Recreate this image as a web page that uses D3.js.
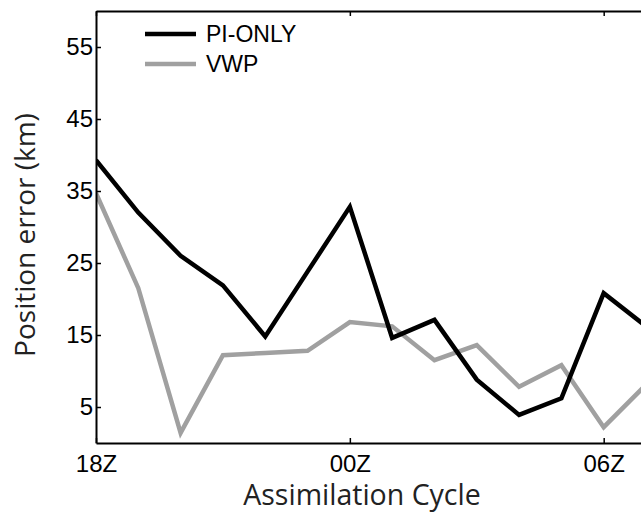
<!DOCTYPE html>
<html>
<head>
<meta charset="utf-8">
<script src="https://cdn.jsdelivr.net/npm/d3@7"></script>
<style>
  html, body { margin: 0; padding: 0; background: #fff; }
  svg { display: block; }
</style>
</head>
<body>
<svg id="chart" width="641" height="512"></svg>
<script>
// Assimilation cycles, hourly from 18Z to 07Z
const cycles = ["18Z","19Z","20Z","21Z","22Z","23Z","00Z","01Z","02Z","03Z","04Z","05Z","06Z","07Z"];
// Track position error (km) for each experiment
const piOnly = [39.3, 32.0, 26.0, 21.9, 14.8, 23.8, 32.8, 14.6, 17.1, 8.8, 3.9, 6.2, 20.8, 16.2];
const vwp    = [34.7, 21.5, 1.4, 12.2, 12.5, 12.8, 16.8, 16.2, 11.5, 13.6, 7.8, 10.8, 2.2, 8.1];
const seriesNames = ["PI-ONLY", "VWP"];
const xTickLabels = ["18Z", "00Z", "06Z"];
const yTicks = [5, 15, 25, 35, 45, 55];

const svg = d3.select("#chart");
const mLeft = 96, mRight = 646, mTop = 11, mBottom = 443;

const x = d3.scaleLinear().domain([0, cycles.length - 1]).range([mLeft, mRight]);
const y = d3.scaleLinear().domain([0, 60]).range([mBottom, mTop]);

const xTickIdx = xTickLabels.map(l => cycles.indexOf(l));
const tickFont = "'Liberation Sans', Arial, Helvetica, sans-serif";
const titleFont = "'Open Sans', 'Noto Sans', sans-serif";

svg.append("defs").append("clipPath").attr("id", "plot")
  .append("rect").attr("x", mLeft).attr("y", mTop)
  .attr("width", mRight - mLeft).attr("height", mBottom - mTop);

// Data lines
const line = d3.line().x((d, i) => x(i)).y(d => y(d));
const g = svg.append("g").attr("clip-path", "url(#plot)");
g.append("path").datum(vwp).attr("d", line)
  .attr("fill", "none").attr("stroke", "#a0a0a0").attr("stroke-width", 4.5)
  .attr("stroke-linejoin", "miter");
g.append("path").datum(piOnly).attr("d", line)
  .attr("fill", "none").attr("stroke", "#000").attr("stroke-width", 4.5)
  .attr("stroke-linejoin", "miter");

// Axes with inward ticks on all four sides
function styleAxis(sel) {
  sel.selectAll(".domain").attr("stroke", "#000").attr("stroke-width", 2);
  sel.selectAll(".tick line").attr("stroke", "#000").attr("stroke-width", 1.5);
}

const yAxis = d3.axisLeft(y).tickValues(yTicks).tickSizeInner(-5).tickSizeOuter(0).tickPadding(3);
svg.append("g").attr("transform", `translate(${mLeft},0)`).call(yAxis).call(styleAxis)
  .selectAll("text").attr("font-family", tickFont).attr("font-size", 24).attr("fill", "#000");

const yAxisR = d3.axisRight(y).tickValues(yTicks).tickSizeInner(-5).tickSizeOuter(0).tickFormat("");
svg.append("g").attr("transform", `translate(${mRight},0)`).call(yAxisR).call(styleAxis);

const xAxis = d3.axisBottom(x).tickValues(xTickIdx).tickFormat(i => cycles[i])
  .tickSizeInner(-5).tickSizeOuter(0).tickPadding(12);
svg.append("g").attr("transform", `translate(0,${mBottom})`).call(xAxis).call(styleAxis)
  .selectAll("text").attr("font-family", tickFont).attr("font-size", 24).attr("fill", "#000");

const xAxisT = d3.axisTop(x).tickValues(xTickIdx).tickFormat("")
  .tickSizeInner(-5).tickSizeOuter(0);
svg.append("g").attr("transform", `translate(0,${mTop})`).call(xAxisT).call(styleAxis);

// Axis titles
svg.append("text").attr("x", 362).attr("y", 505)
  .attr("text-anchor", "middle").attr("font-family", titleFont).attr("font-size", 28.5)
  .attr("fill", "#222").text("Assimilation Cycle");
svg.append("text").attr("transform", "translate(35,235) rotate(-90)")
  .attr("text-anchor", "middle").attr("font-family", titleFont).attr("font-size", 28)
  .attr("fill", "#222").text("Position error (km)");

// Legend
const legendColors = ["#000", "#a0a0a0"];
const lg = svg.append("g");
seriesNames.forEach((name, i) => {
  const ly = 34 + i * 30;
  lg.append("line").attr("x1", 145).attr("x2", 196).attr("y1", ly).attr("y2", ly)
    .attr("stroke", legendColors[i]).attr("stroke-width", 4.5);
  lg.append("text").attr("x", 206).attr("y", ly).attr("dy", "0.36em")
    .attr("font-family", tickFont).attr("font-size", 23).attr("fill", "#000").text(name);
});
</script>
</body>
</html>
